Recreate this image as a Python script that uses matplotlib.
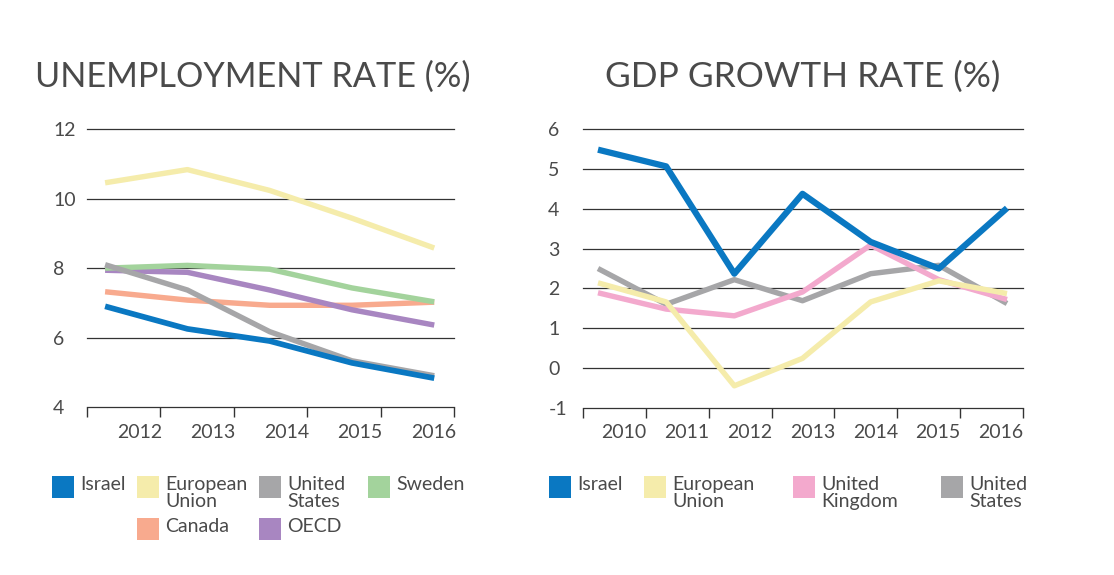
import numpy as np
import matplotlib
matplotlib.use('Agg')
import matplotlib.pyplot as plt
from matplotlib.patches import Rectangle

plt.rcParams['font.family'] = ['Lato', 'DejaVu Sans']

W, H = 1114, 575
TXT = '#4a4a4a'

# unemployment rate (%)
u_years = [2012, 2013, 2014, 2015, 2016]
u_israel = [6.9, 6.25, 5.9, 5.27, 4.83]
u_eu = [10.46, 10.84, 10.24, 9.44, 8.58]
u_us = [8.1, 7.37, 6.17, 5.33, 4.9]
u_sweden = [8.0, 8.08, 7.97, 7.43, 7.03]
u_canada = [7.32, 7.08, 6.93, 6.93, 7.02]
u_oecd = [7.94, 7.88, 7.37, 6.8, 6.36]

# gdp growth rate (%)
g_years = [2010, 2011, 2012, 2013, 2014, 2015, 2016]
g_israel = [5.49, 5.07, 2.37, 4.38, 3.17, 2.5, 4.02]
g_eu = [2.14, 1.66, -0.45, 0.24, 1.66, 2.19, 1.87]
g_uk = [1.89, 1.48, 1.31, 1.91, 3.09, 2.22, 1.72]
g_us = [2.5, 1.6, 2.22, 1.69, 2.37, 2.58, 1.62]

c_israel = '#0a78c2'
c_eu = '#f5ecab'
c_us = '#a6a6a8'
c_sweden = '#a3d39c'
c_canada = '#f8aa8e'
c_oecd = '#a886c1'
c_uk = '#f3a9cd'


def px(x, y):
    # pixel (from top left) -> figure fraction
    return x / W, 1 - y / H


def style_axes(ax, lo, hi, n, label_off, years, yt, pad):
    for s in ax.spines.values():
        s.set_visible(False)
    ax.set_xlim(lo, hi)
    bounds = np.linspace(lo, hi, n + 1)
    step = (hi - lo) / n
    ax.set_xticks(bounds, minor=True)
    ax.set_xticks(bounds[:-1] + label_off * step)
    ax.set_xticklabels([str(y) for y in years])
    ax.tick_params(axis='x', which='minor', length=7, width=1, color='#333333', direction='out')
    ax.tick_params(axis='x', which='major', length=0, pad=12, labelsize=14, labelcolor=TXT)
    ax.set_yticks(yt)
    ax.set_yticklabels([str(v) for v in yt])
    ax.tick_params(axis='y', length=0, pad=pad, labelsize=14, labelcolor=TXT)
    for lab in ax.get_yticklabels():
        lab.set_horizontalalignment('left')
    ax.set_ylim(yt[0] - 0.001, yt[-1] + 0.01)
    for v in yt:
        ax.axhline(v, color='#333333', lw=0.9, zorder=0, clip_on=False)


fig = plt.figure(figsize=(W / 100, H / 100), dpi=100)

ax1 = fig.add_axes([87 / W, 1 - 407 / H, 367 / W, 278 / H])
ax1.plot(u_years, u_eu, color=c_eu, lw=3.9, solid_capstyle='butt')
ax1.plot(u_years, u_canada, color=c_canada, lw=3.9, solid_capstyle='butt')
ax1.plot(u_years, u_oecd, color=c_oecd, lw=3.9, solid_capstyle='butt')
ax1.plot(u_years, u_sweden, color=c_sweden, lw=3.9, solid_capstyle='butt')
ax1.plot(u_years, u_us, color=c_us, lw=3.9, solid_capstyle='butt')
ax1.plot(u_years, u_israel, color=c_israel, lw=4.1, solid_capstyle='butt')
style_axes(ax1, 2011.78, 2016.24, 5, 0.72, u_years, [4, 6, 8, 10, 12], 24.5)

ax2 = fig.add_axes([583 / W, 1 - 407.7 / H, 440 / W, 278.7 / H])
ax2.plot(g_years, g_us, color=c_us, lw=3.9, solid_capstyle='butt')
ax2.plot(g_years, g_uk, color=c_uk, lw=3.9, solid_capstyle='butt')
ax2.plot(g_years, g_eu, color=c_eu, lw=3.9, solid_capstyle='butt')
ax2.plot(g_years, g_israel, color=c_israel, lw=4.5, solid_capstyle='butt')
style_axes(ax2, 2009.78, 2016.235, 7, 0.65, g_years, [-1, 0, 1, 2, 3, 4, 5, 6], 25)

# titles
fig.text(*px(35, 77), 'UNEMPLOYMENT RATE (%)', fontsize=24.7, color=TXT, va='center', ha='left')
fig.text(*px(605, 77), 'GDP GROWTH RATE (%)', fontsize=25.4, color=TXT, va='center', ha='left')

# legends
def legend_item(x, y, color, label):
    fx, fy = px(x, y + 22)
    fig.add_artist(Rectangle((fx, fy), 22 / W, 22 / H, transform=fig.transFigure,
                             facecolor=color, edgecolor='none'))
    fig.text(*px(x + 28, y), label, fontsize=14, color=TXT, va='top', ha='left',
             linespacing=1.0)


leg1 = [(52, 476, c_israel, 'Israel'), (137, 476, c_eu, 'European\nUnion'),
        (259, 476, c_us, 'United\nStates'), (368, 476, c_sweden, 'Sweden'),
        (137, 518, c_canada, 'Canada'), (259, 518, c_oecd, 'OECD')]
for item in leg1:
    legend_item(*item)

leg2 = [(549, 476, c_israel, 'Israel'), (644, 476, c_eu, 'European\nUnion'),
        (793, 476, c_uk, 'United\nKingdom'), (941, 476, c_us, 'United\nStates')]
for item in leg2:
    legend_item(*item)

fig.savefig('out.png', dpi=100)
